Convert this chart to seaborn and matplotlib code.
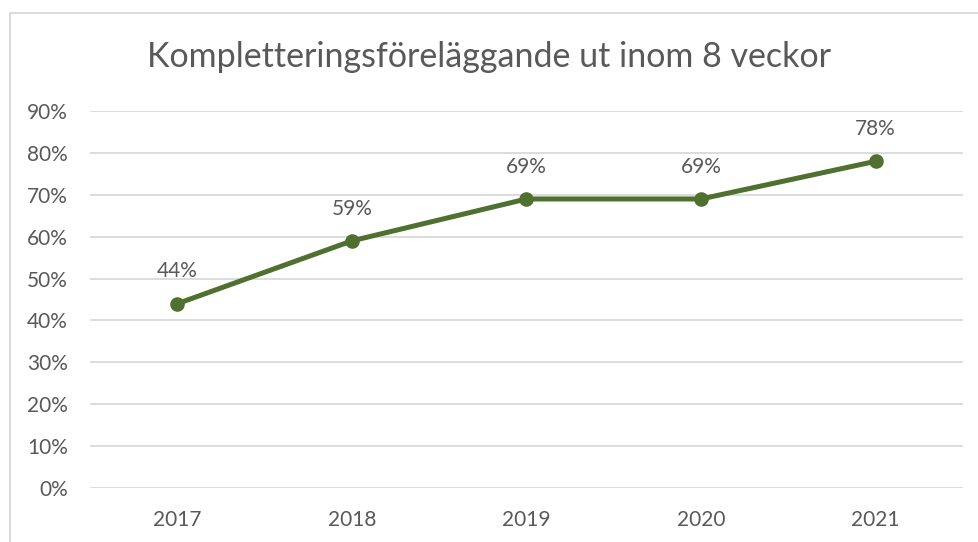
import matplotlib
matplotlib.use("Agg")
import matplotlib.pyplot as plt
import seaborn as sns
import pandas as pd
from matplotlib.ticker import PercentFormatter
from matplotlib.patches import Rectangle

# Data
years = ["2017", "2018", "2019", "2020", "2021"]
shares = [0.44, 0.59, 0.69, 0.69, 0.78]
yticks = [0.0, 0.1, 0.2, 0.3, 0.4, 0.5, 0.6, 0.7, 0.8, 0.9]

df = pd.DataFrame({"year": years, "share": shares})

sns.set_style("white")
plt.rcParams["font.family"] = ["Lato", "DejaVu Sans"]
text_color = "#595959"
line_color = "#507030"

fig = plt.figure(figsize=(9.79, 5.42), dpi=100)
ax = fig.add_axes([90 / 979, 1 - 488 / 542, (963 - 90) / 979, (488 - 111) / 542])

sns.lineplot(data=df, x="year", y="share", ax=ax, color=line_color,
             linewidth=3.6, marker="o", markersize=10.5, markeredgewidth=0,
             sort=False)

# Data labels
for i, v in enumerate(shares):
    ax.annotate(f"{v:.0%}", (i, v), xytext=(0, 16), textcoords="offset points",
                ha="center", va="bottom", fontsize=15, color=text_color)

ax.set_xlim(-0.5, len(years) - 0.5)
ax.set_ylim(0, 0.9)
ax.set_yticks(yticks)
ax.yaxis.set_major_formatter(PercentFormatter(1.0, decimals=0))
ax.grid(axis="y", color="#d9d9d9", linewidth=1.3)
ax.set_axisbelow(True)
for s in ax.spines.values():
    s.set_visible(False)
ax.tick_params(axis="both", length=0, labelsize=15, labelcolor=text_color)
ax.tick_params(axis="x", pad=16)
ax.tick_params(axis="y", pad=16)
ax.set_xlabel("")
ax.set_ylabel("")

fig.text(0.5, 1 - 57 / 542, "Kompletteringsföreläggande ut inom 8 veckor",
         ha="center", va="center", fontsize=24.5, color=text_color)

# Chart border (cut off on right and bottom like the reference)
fig.patches.append(Rectangle((10 / 979, -0.05), 1.1, 1.05 - 13 / 542,
                             transform=fig.transFigure, fill=False,
                             edgecolor="#d9d9d9", linewidth=1.3))

fig.savefig("out.png", dpi=100)
